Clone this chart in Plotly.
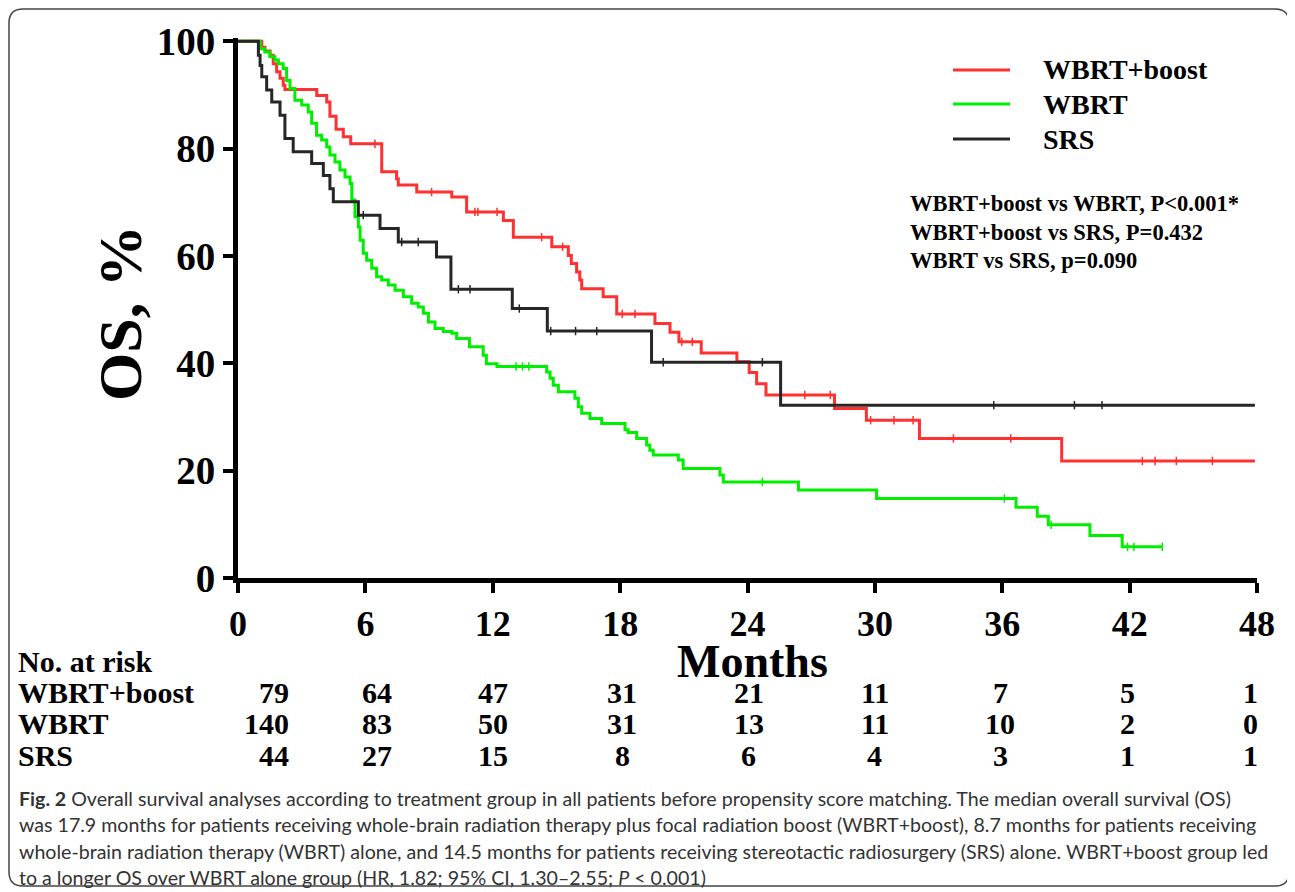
import plotly.graph_objects as go

# ---------------- data ----------------
boost_t = [0, 1.12, 1.27, 1.51, 1.66, 1.82, 1.98, 2.13, 2.21, 3.71, 4.18, 4.33, 4.62, 4.96, 5.31,
           6.77, 7.47, 7.55, 8.42, 10.07, 10.77, 12.5, 12.97, 14.78, 15.56, 15.7, 15.95, 16.1, 16.19,
           17.2, 17.84, 19.64, 20.35, 20.77, 21.82, 23.5, 24.08, 24.43, 24.87, 28.1, 29.6, 32.1, 38.8, 47.9]
boost_s = [100, 98.9, 98.2, 97.4, 95.8, 94.3, 93.1, 91.8, 91.0, 89.9, 88.7, 86.0, 83.6, 82.2, 80.9,
           75.7, 74.4, 73.2, 71.9, 71.0, 68.2, 66.6, 63.5, 61.7, 60.1, 58.6, 57.0, 55.5, 53.9,
           52.4, 49.2, 47.4, 45.8, 44.0, 41.9, 40.3, 38.3, 36.2, 34.1, 31.6, 29.4, 26.0, 21.8, 21.8]
boost_cens_t = [6.45, 9.12, 11.16, 11.3, 12.2, 14.3, 15.29, 18.1, 18.7, 20.9, 21.4, 26.7, 27.9, 29.8,
                30.9, 31.8, 33.7, 36.4, 42.6, 43.2, 44.2, 45.9]
boost_cens_s = [80.9, 71.9, 68.2, 68.2, 68.2, 63.5, 61.7, 49.2, 49.2, 44.0, 44.0, 34.1, 34.1, 29.4,
                29.4, 29.4, 26.0, 26.0, 21.8, 21.8, 21.8, 21.8]

wbrt_t = [0, 1.04, 1.27, 1.5, 1.74, 1.9, 2.13, 2.29, 2.45, 2.68, 3.0, 3.31, 3.47, 3.7, 3.94, 4.18,
          4.33, 4.57, 4.8, 5.04, 5.28, 5.36, 5.51, 5.67, 5.75, 5.9, 6.06, 6.3, 6.53, 6.77, 7.08, 7.4,
          7.79, 8.18, 8.49, 8.73, 8.97, 9.28, 9.67, 10.07, 10.3, 10.9, 11.55, 11.7, 12.2, 14.54, 14.7,
          14.85, 15.09, 15.87, 16.03, 16.19, 16.58, 17.13, 18.23, 18.38, 18.78, 19.25, 19.4, 19.56,
          20.74, 20.97, 22.7, 22.86, 26.4, 30.08, 36.65, 37.65, 38.17, 40.13, 41.65, 43.54]
wbrt_s = [100, 98.6, 98.0, 97.1, 96.5, 95.8, 94.9, 92.7, 91.2, 89.0, 88.1, 86.8, 84.7, 82.5, 81.6, 80.3,
          78.8, 77.5, 76.0, 74.7, 73.5, 70.4, 67.3, 65.4, 62.9, 60.5, 59.2, 57.7, 56.1, 55.5, 54.6, 53.6,
          52.4, 51.2, 50.5, 49.3, 47.7, 46.5, 45.9, 45.6, 44.6, 43.1, 41.5, 39.9, 39.4, 38.4, 37.2,
          35.9, 34.7, 33.5, 31.9, 30.7, 29.7, 28.8, 27.6, 27.1, 26.0, 24.8, 23.8, 22.9,
          22.0, 20.4, 19.2, 17.9, 16.4, 14.8, 13.2, 11.5, 9.9, 7.9, 5.8, 5.8]
wbrt_cens_t = [13.1, 13.4, 13.7, 24.7, 36.1, 38.3, 41.9, 42.2, 43.54]
wbrt_cens_s = [39.4, 39.4, 39.4, 17.9, 14.8, 9.9, 5.8, 5.8, 5.8]

srs_t = [0, 0.96, 1.04, 1.12, 1.35, 1.59, 1.98, 2.21, 2.6, 3.47, 4.02, 4.33, 4.49, 5.67, 6.69, 7.55,
         9.35, 10.03, 12.92, 14.57, 19.48, 25.56, 47.9]
srs_s = [100, 97.4, 95.5, 93.4, 90.9, 88.7, 86.2, 81.9, 79.4, 77.2, 75.0, 72.5, 70.1, 67.6, 65.1, 62.6,
         59.8, 53.8, 50.2, 46.0, 40.2, 32.2, 32.2]
srs_cens_t = [5.9, 7.71, 8.49, 10.38, 10.93, 13.25, 14.73, 15.9, 16.9, 20.03, 24.7, 35.6, 39.4, 40.7]
srs_cens_s = [67.6, 62.6, 62.6, 53.8, 53.8, 50.2, 46.0, 46.0, 46.0, 40.2, 40.2, 32.2, 32.2, 32.2]

group_names = ["WBRT+boost", "WBRT", "SRS"]
group_colors = ["#ff3030", "#00ee00", "#262626"]
risk_times = [0, 6, 12, 18, 24, 30, 36, 42, 48]
risk_boost = [79, 64, 47, 31, 21, 11, 7, 5, 1]
risk_wbrt = [140, 83, 50, 31, 13, 11, 10, 2, 0]
risk_srs = [44, 27, 15, 8, 6, 4, 3, 1, 1]

stats_lines = ["WBRT+boost vs WBRT, P&lt;0.001*",
               "WBRT+boost vs SRS, P=0.432",
               "WBRT vs SRS, p=0.090"]

caption_lines = [
    "<b>Fig. 2</b> Overall survival analyses according to treatment group in all patients before propensity score matching. The median overall survival (OS)",
    "was 17.9 months for patients receiving whole-brain radiation therapy plus focal radiation boost (WBRT+boost), 8.7 months for patients receiving",
    "whole-brain radiation therapy (WBRT) alone, and 14.5 months for patients receiving stereotactic radiosurgery (SRS) alone. WBRT+boost group led",
    "to a longer OS over WBRT alone group (HR, 1.82; 95% CI, 1.30\u20132.55; <i>P</i> &lt; 0.001)",
]

# ---------------- geometry (page pixels of the reference) ----------------
W, H = 1295, 892
OFF = 8                      # page body margin
PX0, PX1 = 238, 1257         # x = 0 and x = 48
PY0 = 578                    # y = 0
PW = PX1 - PX0
PH = 540                     # height for range 0..100.6
ML = PX0 - OFF
MR = W - (PX1 - OFF)
MT = (PY0 - PH) - OFF
MB = H - (PY0 - OFF)


def ux(px):
    return (px - PX0) / PW


def vy(py):
    return (PY0 - py) / PH


SERIF = "Liberation Serif"
fig = go.Figure()

curves = [(boost_t, boost_s, boost_cens_t, boost_cens_s),
          (wbrt_t, wbrt_s, wbrt_cens_t, wbrt_cens_s),
          (srs_t, srs_s, srs_cens_t, srs_cens_s)]
for (t, s, ct, cs), name, col in zip(curves, group_names, group_colors):
    fig.add_trace(go.Scatter(x=t, y=s, mode="lines", line=dict(color=col, width=3, shape="hv"),
                             name=name, showlegend=False))
    fig.add_trace(go.Scatter(x=ct, y=cs, mode="markers", showlegend=False,
                             marker=dict(symbol="line-ns", size=6, line=dict(color=col, width=1.5)),
                             name=name + " censored"))

fig.update_xaxes(range=[0, 48], tickvals=risk_times, showgrid=False, zeroline=False,
                 showline=True, linecolor="black", linewidth=5,
                 ticks="outside", ticklen=10, tickwidth=4, tickcolor="black",
                 tickfont=dict(family=SERIF, size=36, color="black", weight="bold"))
fig.update_yaxes(range=[0, 100.6], tickvals=[0, 20, 40, 60, 80, 100], showgrid=False, zeroline=False,
                 showline=True, linecolor="black", linewidth=5,
                 ticks="outside", ticklen=10, tickwidth=4, tickcolor="black",
                 tickfont=dict(family=SERIF, size=39, color="black", weight="bold"))

ann = []
shapes = []


def text(t, px, py, size, xanchor="left", family=SERIF, color="black", **kw):
    d = dict(text=t, x=ux(px), y=vy(py), xref="paper", yref="paper", xanchor=xanchor,
             yanchor="middle", showarrow=False, font=dict(family=family, size=size, color=color))
    d.update(kw)
    ann.append(d)


# axis titles
text("<b>OS, %</b>", 120, 313, 62, xanchor="center", textangle=-90)
text("<b>Months</b>", 752, 661, 46, xanchor="center")

# legend (manual)
leg_y = [70, 104, 139]
for name, col, py in zip(group_names, group_colors, leg_y):
    shapes.append(dict(type="line", xref="paper", yref="paper", x0=ux(953), x1=ux(1010),
                       y0=vy(py), y1=vy(py), line=dict(color=col, width=3)))
    text("<b>" + name + "</b>", 1041, py, 28)

# stats text
for line, py in zip(stats_lines, [203, 232, 260]):
    text("<b>" + line + "</b>", 908, py, 22.5)

# risk table
text("<b>No. at risk</b>", 16, 662, 30)
col_shift = [53, 12, 0, 2, 1, 0, -2, -2, -7]
col_anchor = ["right"] + ["center"] * 8
for name, counts, py in zip(group_names, [risk_boost, risk_wbrt, risk_srs], [692, 723, 755]):
    text("<b>" + name + "</b>", 16, py, 30)
    for tm, c, sh, xa in zip(risk_times, counts, col_shift, col_anchor):
        ann.append(dict(text="<b>%d</b>" % c, x=tm, y=vy(py), xref="x", yref="paper",
                        xanchor=xa, yanchor="middle", xshift=sh, showarrow=False,
                        font=dict(family=SERIF, size=30, color="black")))

# caption
for line, py in zip(caption_lines, [798, 824, 851, 877]):
    text(line, 17, py, 19.6, family="Lato", color="#333333")

# rounded frame
x0, x1, y0, y1 = ux(9), ux(1289), vy(9), vy(886)
rx, ry = 14 / PW, 14 / PH
path = (f"M {x0 + rx},{y0} L {x1 - rx},{y0} Q {x1},{y0} {x1},{y0 - ry} "
        f"L {x1},{y1 + ry} Q {x1},{y1} {x1 - rx},{y1} "
        f"L {x0 + rx},{y1} Q {x0},{y1} {x0},{y1 + ry} "
        f"L {x0},{y0 - ry} Q {x0},{y0} {x0 + rx},{y0} Z")
shapes.append(dict(type="path", xref="paper", yref="paper", path=path,
                   line=dict(color="#444444", width=1.5)))

fig.update_layout(width=W, height=H, margin=dict(l=ML, r=MR, t=MT, b=MB, autoexpand=False),
                  plot_bgcolor="white", paper_bgcolor="white", showlegend=False,
                  annotations=ann, shapes=shapes)

fig.write_html("out.html")
